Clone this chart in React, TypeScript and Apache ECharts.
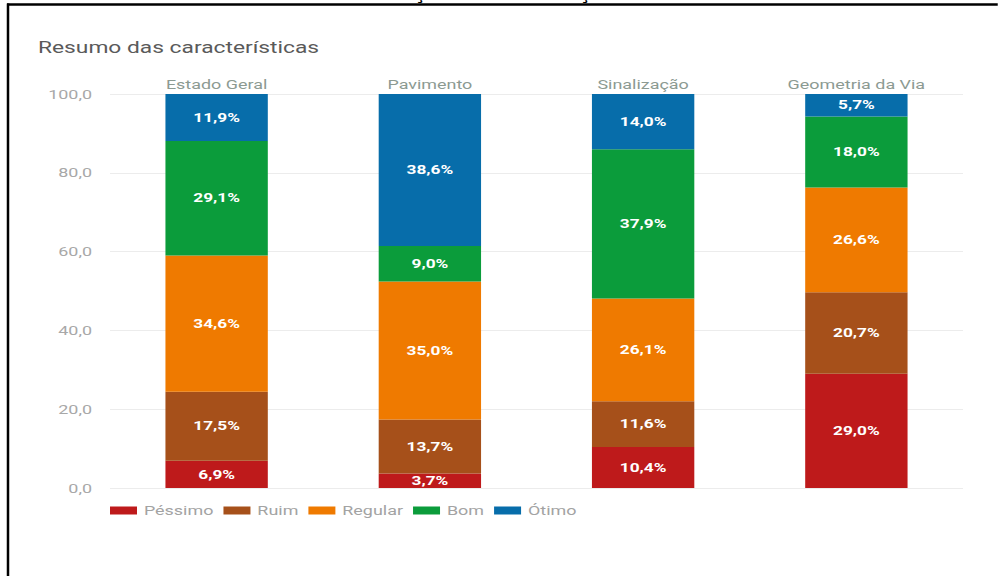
import React, { useEffect, useRef } from "react";
import * as echarts from "echarts";

const categories = ["Estado Geral", "Pavimento", "Sinalização", "Geometria da Via"];
const seriesNames = ["Péssimo", "Ruim", "Regular", "Bom", "Ótimo"];
const pessimo = [6.9, 3.7, 10.4, 29.0];
const ruim = [17.5, 13.7, 11.6, 20.7];
const regular = [34.6, 35.0, 26.1, 26.6];
const bom = [29.1, 9.0, 37.9, 18.0];
const otimo = [11.9, 38.6, 14.0, 5.7];
const seriesValues = [pessimo, ruim, regular, bom, otimo];
const colors = ["#BE1A1B", "#A6501A", "#EF7A00", "#0B9C3B", "#076DAA"];

// The reference looks horizontally stretched; render narrower and stretch.
const S = 1.38;
const W = 998 / S;
const H = 576;
const sx = (x: number) => x / S;

export default function App() {
  const ref = useRef<HTMLDivElement>(null);
  useEffect(() => {
    const chart = echarts.init(ref.current!, null, { renderer: "svg", width: W, height: H });
    chart.setOption({
      animation: false,
      backgroundColor: "#ffffff",
      title: {
        text: "Resumo das características",
        left: sx(38) - 5,
        top: 34,
        textStyle: { fontFamily: "Roboto", fontSize: 16.5, fontWeight: "normal", color: "#5a5a5a" },
      },
      grid: { left: sx(110), right: sx(35), top: 94, bottom: 88, containLabel: false },
      xAxis: {
        type: "category",
        position: "top",
        data: categories,
        axisLine: { show: false },
        axisTick: { show: false },
        axisLabel: { color: "#8c9a92", fontFamily: "Roboto", fontSize: 13, margin: 3 },
      },
      yAxis: {
        type: "value",
        min: 0,
        max: 100,
        interval: 20,
        axisLine: { show: false },
        axisTick: { show: false },
        splitLine: { lineStyle: { color: "#ececec", width: 1 } },
        axisLabel: {
          color: "#a8a8a8",
          fontFamily: "Roboto",
          fontSize: 13,
          margin: sx(18),
          formatter: (v: number) => v.toFixed(1).replace(".", ","),
        },
      },
      legend: {
        left: sx(110) - 5,
        top: 499,
        icon: "rect",
        itemWidth: sx(27),
        itemHeight: 8,
        itemGap: sx(10),
        data: seriesNames,
        textStyle: { color: "#a3a3a3", fontFamily: "Roboto", fontSize: 13 },
      },
      series: seriesNames.map((name, i) => ({
        name,
        type: "bar",
        stack: "total",
        barWidth: "48%",
        data: seriesValues[i],
        itemStyle: { color: colors[i] },
        label: {
          show: true,
          position: "inside",
          color: "#ffffff",
          fontFamily: "Roboto",
          fontWeight: "bold",
          fontSize: 12.5,
          formatter: (p: any) => Number(p.value).toFixed(1).replace(".", ",") + "%",
        },
      })),
      graphic: [
        { type: "text", left: sx(412), top: -12, style: { text: "Ç", fontSize: 14, fontWeight: "bold", fill: "#000", fontFamily: "DejaVu Sans" } },
        { type: "text", left: sx(577), top: -12, style: { text: "Ç", fontSize: 14, fontWeight: "bold", fill: "#000", fontFamily: "DejaVu Sans" } },
        { type: "line", shape: { x1: sx(7), y1: 4.5, x2: W, y2: 4.5 }, style: { stroke: "#000", lineWidth: 2.5 } },
        { type: "line", shape: { x1: sx(8), y1: 3.5, x2: sx(8), y2: H }, style: { stroke: "#000", lineWidth: 2.5 / S } },
      ],
    });
    return () => chart.dispose();
  }, []);
  return (
    <div
      style={{ position: "absolute", left: 0, top: 0, width: 998, height: H, overflow: "hidden", background: "#fff" }}
    >
      <div
        ref={ref}
        style={{
          width: W,
          height: H,
          transform: `scaleX(${S})`,
          transformOrigin: "0 0",
        }}
      />
    </div>
  );
}
